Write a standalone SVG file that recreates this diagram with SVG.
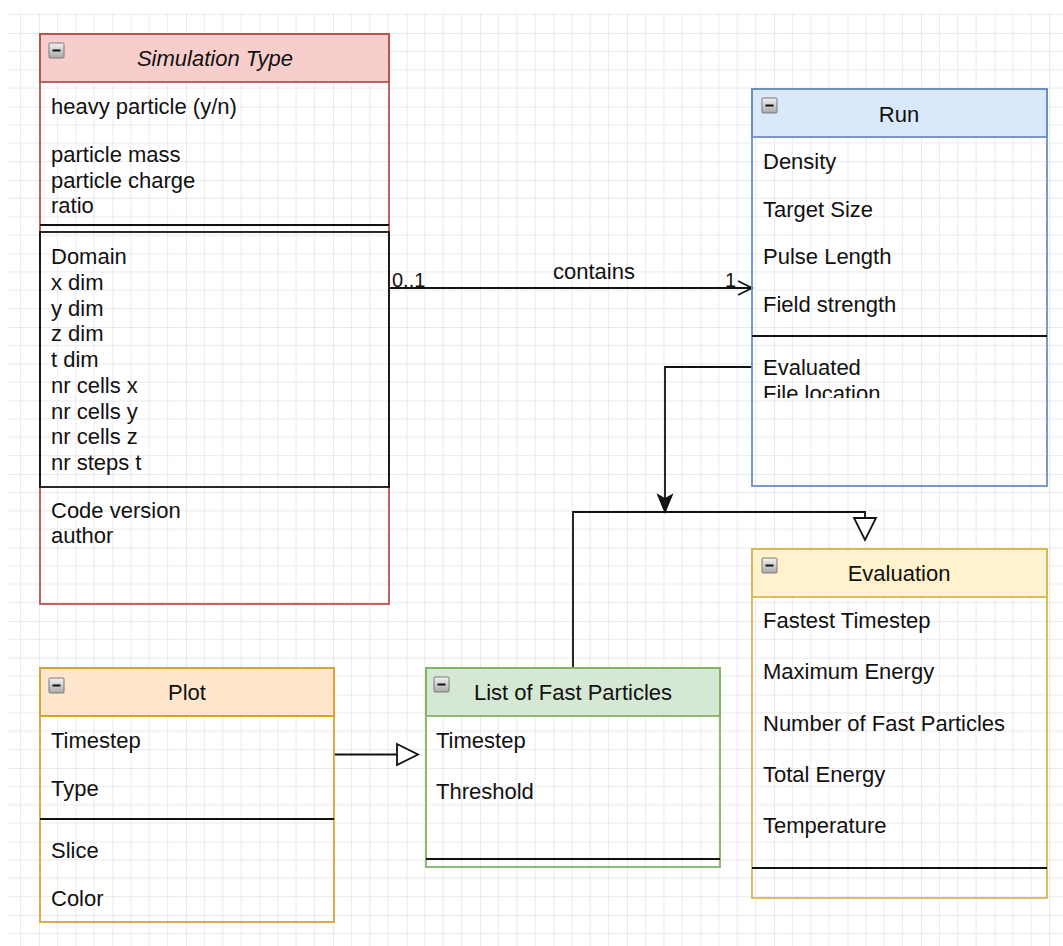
<svg xmlns="http://www.w3.org/2000/svg" width="1063" height="946" viewBox="0 0 1063 946">
<style>
text{font-family:"Liberation Sans",Arial,sans-serif;font-size:22px;fill:#111;}
.t{text-anchor:middle;}
.box{fill:none;stroke-width:1.8;}
.div{stroke:#111;stroke-width:1.8;}
.edge{fill:none;stroke:#111;stroke-width:1.8;}
.ico{fill:url(#icog);stroke:#7a7a7a;stroke-width:1;}
.lbl{font-size:20px;}
</style>
<defs>
<linearGradient id="icog" x1="0" y1="0" x2="0" y2="1">
<stop offset="0" stop-color="#f2f2f2"/>
<stop offset="1" stop-color="#a9a9a9"/>
</linearGradient>
<pattern id="grid" x="39" y="33" width="73.5" height="73.5" patternUnits="userSpaceOnUse">
<path d="M18.375 0V73.5M36.75 0V73.5M55.125 0V73.5M0 18.375H73.5M0 36.75H73.5M0 55.125H73.5" stroke="#eaeaea" stroke-width="1" fill="none"/>
<path d="M0 0V73.5M0 0H73.5" stroke="#d6d6d6" stroke-width="1" fill="none"/>
</pattern>
<clipPath id="runclip"><rect x="752" y="137" width="295" height="261"/></clipPath>
<g id="icon"><rect class="ico" x="0" y="0" width="15" height="15" rx="1"/><path d="M3.5 7.5H11.5" stroke="#111" stroke-width="2"/></g>
</defs>
<rect width="1063" height="946" fill="#fff"/>
<rect x="7" y="13" width="1056" height="933" fill="url(#grid)"/>

<g id="connectors">
<path class="edge" d="M389 288H751"/>
<polyline class="edge" points="738,281 752,288 738,295"/>
<text class="lbl" x="392" y="287">0..1</text>
<text class="t" x="594" y="279">contains</text>
<text class="lbl" x="725" y="287">1</text>
<path class="edge" d="M752 367H665V499"/>
<path d="M665 512L658 495L665 499L672 495Z" fill="#111" stroke="#111" stroke-width="1.5"/>
<path class="edge" d="M573 668V512H865V518"/>
<polygon points="854,518 876,518 865,540" fill="#fff" stroke="#111" stroke-width="1.8"/>
<path class="edge" d="M334 754.5H397"/>
<polygon points="397,744 418,754.5 397,765" fill="#fff" stroke="#111" stroke-width="1.8"/>
</g>

<g id="simulation-type">
<rect x="40" y="34" width="349" height="48" fill="#f8cecc" stroke="#b85450" stroke-width="1.8"/>
<rect class="box" x="40" y="34" width="349" height="570" stroke="#b85450"/>
<use href="#icon" x="49" y="43"/>
<text class="t" x="215" y="66" font-style="italic">Simulation Type</text>
<text x="51" y="114">heavy particle (y/n)</text>
<text x="51" y="162">particle mass</text>
<text x="51" y="188">particle charge</text>
<text x="51" y="213">ratio</text>
<line class="div" x1="40" y1="225" x2="389" y2="225"/>
<rect x="40" y="232" width="349" height="255" fill="none" stroke="#111" stroke-width="1.8"/>
<text x="51" y="264">Domain</text>
<text x="51" y="290">x dim</text>
<text x="51" y="315.5">y dim</text>
<text x="51" y="341">z dim</text>
<text x="51" y="367">t dim</text>
<text x="51" y="393">nr cells x</text>
<text x="51" y="418.5">nr cells y</text>
<text x="51" y="444">nr cells z</text>
<text x="51" y="470">nr steps t</text>
<text x="51" y="518">Code version</text>
<text x="51" y="543">author</text>
</g>

<g id="run">
<rect x="752" y="89" width="295" height="48" fill="#dae8fc" stroke="#6c8ebf" stroke-width="1.8"/>
<rect class="box" x="752" y="89" width="295" height="397" stroke="#6c8ebf"/>
<use href="#icon" x="762" y="98"/>
<text class="t" x="899" y="122">Run</text>
<text x="763" y="169">Density</text>
<text x="763" y="217">Target Size</text>
<text x="763" y="264">Pulse Length</text>
<text x="763" y="312">Field strength</text>
<line class="div" x1="752" y1="336" x2="1047" y2="336"/>
<g clip-path="url(#runclip)">
<text x="763" y="375">Evaluated</text>
<text x="763" y="401">File location</text>
</g>
</g>

<g id="evaluation">
<rect x="752" y="549" width="295" height="48" fill="#fff2cc" stroke="#d6b656" stroke-width="1.8"/>
<rect class="box" x="752" y="549" width="295" height="349" stroke="#d6b656"/>
<use href="#icon" x="762" y="558"/>
<text class="t" x="899" y="581">Evaluation</text>
<text x="763" y="628">Fastest Timestep</text>
<text x="763" y="679">Maximum Energy</text>
<text x="763" y="731">Number of Fast Particles</text>
<text x="763" y="782">Total Energy</text>
<text x="763" y="833">Temperature</text>
<line class="div" x1="752" y1="868" x2="1047" y2="868"/>
</g>

<g id="plot">
<rect x="40" y="668" width="294" height="48" fill="#ffe6cc" stroke="#d79b00" stroke-width="1.8"/>
<rect class="box" x="40" y="668" width="294" height="254" stroke="#d6a440"/>
<use href="#icon" x="49" y="678"/>
<text class="t" x="187" y="700">Plot</text>
<text x="51" y="748">Timestep</text>
<text x="51" y="796">Type</text>
<line class="div" x1="40" y1="819" x2="334" y2="819"/>
<text x="51" y="858">Slice</text>
<text x="51" y="906">Color</text>
</g>

<g id="list-of-fast-particles">
<rect x="426" y="668" width="294" height="48" fill="#d5e8d4" stroke="#82b366" stroke-width="1.8"/>
<rect class="box" x="426" y="668" width="294" height="199" stroke="#82b366"/>
<use href="#icon" x="434" y="677"/>
<text class="t" x="573" y="700">List of Fast Particles</text>
<text x="436" y="748">Timestep</text>
<text x="436" y="799">Threshold</text>
<line class="div" x1="426" y1="859" x2="720" y2="859"/>
</g>
</svg>
